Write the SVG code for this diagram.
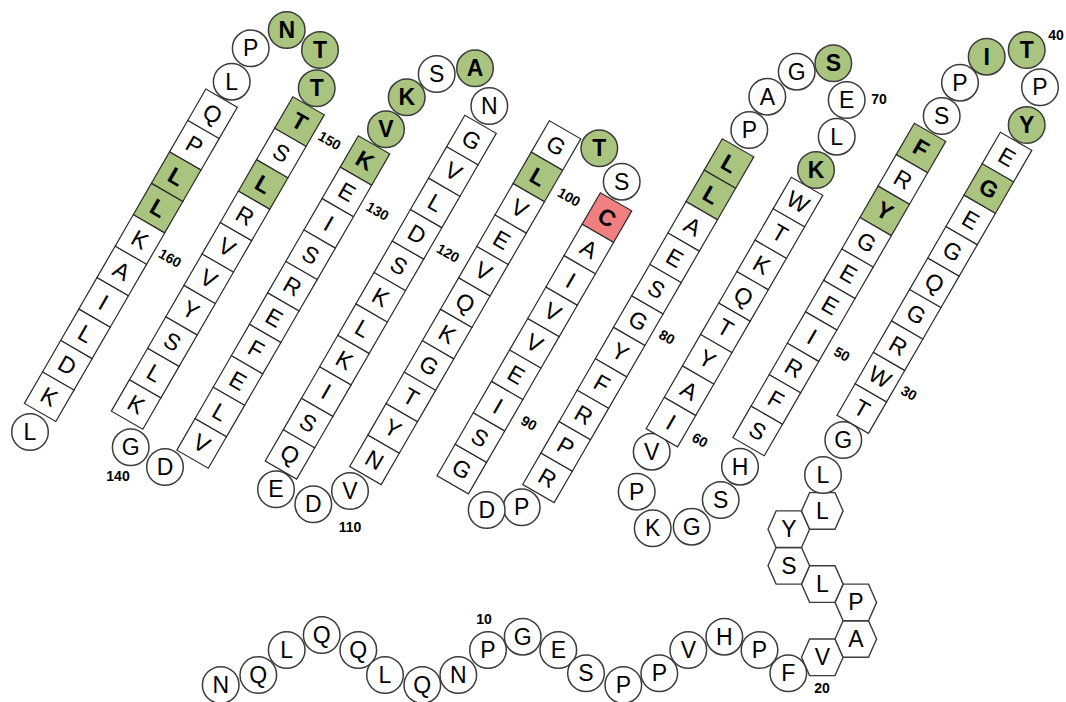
<svg xmlns="http://www.w3.org/2000/svg" width="1066" height="702" viewBox="0 0 1066 702">
<style>
.c{fill:#fff;stroke:#3c3c3c;stroke-width:1.5}
.s{fill:#fff;stroke:#2a2a2a;stroke-width:1.2}
.h{fill:#fff;stroke:#3c3c3c;stroke-width:1.4}
.g{fill:#a9c47f}
.r{fill:#f08080}
text{font-family:"Liberation Sans",Arial,sans-serif;font-size:23px;text-anchor:middle;dominant-baseline:central;fill:#000}
.b{font-weight:bold}
.n{font-size:14px;font-weight:bold}
</style>
<defs>
<rect id="sq" x="-18.15" y="-18.15" width="36.3" height="36.3"/>
<polygon id="hx" points="-20.8,0 -12.7,-18.3 12.7,-18.3 20.8,0 12.7,18.3 -12.7,18.3"/>
</defs>
<rect width="1066" height="702" fill="#fff"/>
<g id="connectors"></g>
<g id="residues">
<g id="n2"><circle class="c" cx="220.7" cy="685" r="18.3"/><text x="220.7" y="685">N</text></g>
<g id="n3"><circle class="c" cx="258.3" cy="675" r="18.3"/><text x="258.3" y="675">Q</text></g>
<g id="n4"><circle class="c" cx="286.7" cy="650" r="18.3"/><text x="286.7" y="650">L</text></g>
<g id="n5"><circle class="c" cx="321.7" cy="635" r="18.3"/><text x="321.7" y="635">Q</text></g>
<g id="n6"><circle class="c" cx="358.3" cy="650" r="18.3"/><text x="358.3" y="650">Q</text></g>
<g id="n7"><circle class="c" cx="385" cy="675" r="18.3"/><text x="385" y="675">L</text></g>
<g id="n8"><circle class="c" cx="422.3" cy="685" r="18.3"/><text x="422.3" y="685">Q</text></g>
<g id="n9"><circle class="c" cx="458.3" cy="675" r="18.3"/><text x="458.3" y="675">N</text></g>
<g id="n10"><circle class="c" cx="488" cy="650" r="18.3"/><text x="488" y="650">P</text></g>
<g id="n11"><circle class="c" cx="522.7" cy="636.7" r="18.3"/><text x="522.7" y="636.7">G</text></g>
<g id="n12"><circle class="c" cx="558.3" cy="650" r="18.3"/><text x="558.3" y="650">E</text></g>
<g id="n13"><circle class="c" cx="586" cy="673.3" r="18.3"/><text x="586" y="673.3">S</text></g>
<g id="n14"><circle class="c" cx="623.3" cy="685" r="18.3"/><text x="623.3" y="685">P</text></g>
<g id="n15"><circle class="c" cx="659.3" cy="673.3" r="18.3"/><text x="659.3" y="673.3">P</text></g>
<g id="n16"><circle class="c" cx="688.3" cy="650" r="18.3"/><text x="688.3" y="650">V</text></g>
<g id="n17"><circle class="c" cx="724.3" cy="636.7" r="18.3"/><text x="724.3" y="636.7">H</text></g>
<g id="n18"><circle class="c" cx="759.5" cy="650" r="18.3"/><text x="759.5" y="650">P</text></g>
<g id="n19"><circle class="c" cx="788.3" cy="673.3" r="18.3"/><text x="788.3" y="673.3">F</text></g>
<g id="n20" transform="translate(822.3,657.3)"><use href="#hx" class="h"/><text>V</text></g>
<g id="n21" transform="translate(855.8,639)"><use href="#hx" class="h"/><text>A</text></g>
<g id="n22" transform="translate(855.8,602.4)"><use href="#hx" class="h"/><text>P</text></g>
<g id="n23" transform="translate(822.3,584.1)"><use href="#hx" class="h"/><text>L</text></g>
<g id="n24" transform="translate(788.8,565.8)"><use href="#hx" class="h"/><text>S</text></g>
<g id="n25" transform="translate(788.8,529.2)"><use href="#hx" class="h"/><text>Y</text></g>
<g id="n26" transform="translate(822.3,510.9)"><use href="#hx" class="h"/><text>L</text></g>
<g id="n27"><circle class="c" cx="823" cy="475" r="18.3"/><text x="823" y="475">L</text></g>
<g id="n28"><circle class="c" cx="843.3" cy="440" r="18.3"/><text x="843.3" y="440">G</text></g>
<g id="n29" transform="translate(861.8,408.52) rotate(30)"><use href="#sq" class="s"/><text>T</text></g>
<g id="n30" transform="translate(879.95,377.08) rotate(30)"><use href="#sq" class="s"/><text>W</text></g>
<g id="n31" transform="translate(898.1,345.64) rotate(30)"><use href="#sq" class="s"/><text>R</text></g>
<g id="n32" transform="translate(916.25,314.2) rotate(30)"><use href="#sq" class="s"/><text>G</text></g>
<g id="n33" transform="translate(934.4,282.76) rotate(30)"><use href="#sq" class="s"/><text>Q</text></g>
<g id="n34" transform="translate(952.55,251.32) rotate(30)"><use href="#sq" class="s"/><text>G</text></g>
<g id="n35" transform="translate(970.7,219.88) rotate(30)"><use href="#sq" class="s"/><text>E</text></g>
<g id="n36" transform="translate(988.85,188.44) rotate(30)"><use href="#sq" class="s g"/><text class="b">G</text></g>
<g id="n37" transform="translate(1007,157) rotate(30)"><use href="#sq" class="s"/><text>E</text></g>
<g id="n38"><circle class="c g" cx="1026.7" cy="125" r="18.3"/><text class="b" x="1026.7" y="125">Y</text></g>
<g id="n39"><circle class="c" cx="1040" cy="87.3" r="18.3"/><text x="1040" y="87.3">P</text></g>
<g id="n40"><circle class="c g" cx="1026.7" cy="50" r="18.3"/><text class="b" x="1026.7" y="50">T</text></g>
<g id="n41"><circle class="c g" cx="986.7" cy="56.7" r="18.3"/><text class="b" x="986.7" y="56.7">I</text></g>
<g id="n42"><circle class="c" cx="960" cy="82.7" r="18.3"/><text x="960" y="82.7">P</text></g>
<g id="n43"><circle class="c" cx="941.7" cy="116" r="18.3"/><text x="941.7" y="116">S</text></g>
<g id="n44" transform="translate(921,148) rotate(30)"><use href="#sq" class="s g"/><text class="b">F</text></g>
<g id="n45" transform="translate(902.85,179.44) rotate(30)"><use href="#sq" class="s"/><text>R</text></g>
<g id="n46" transform="translate(884.7,210.88) rotate(30)"><use href="#sq" class="s g"/><text class="b">Y</text></g>
<g id="n47" transform="translate(866.55,242.32) rotate(30)"><use href="#sq" class="s"/><text>G</text></g>
<g id="n48" transform="translate(848.4,273.76) rotate(30)"><use href="#sq" class="s"/><text>E</text></g>
<g id="n49" transform="translate(830.25,305.2) rotate(30)"><use href="#sq" class="s"/><text>E</text></g>
<g id="n50" transform="translate(812.1,336.64) rotate(30)"><use href="#sq" class="s"/><text>I</text></g>
<g id="n51" transform="translate(793.95,368.08) rotate(30)"><use href="#sq" class="s"/><text>R</text></g>
<g id="n52" transform="translate(775.8,399.52) rotate(30)"><use href="#sq" class="s"/><text>F</text></g>
<g id="n53" transform="translate(757.65,430.96) rotate(30)"><use href="#sq" class="s"/><text>S</text></g>
<g id="n54"><circle class="c" cx="740" cy="466.7" r="18.3"/><text x="740" y="466.7">H</text></g>
<g id="n55"><circle class="c" cx="720.7" cy="500" r="18.3"/><text x="720.7" y="500">S</text></g>
<g id="n56"><circle class="c" cx="691.7" cy="526.7" r="18.3"/><text x="691.7" y="526.7">G</text></g>
<g id="n57"><circle class="c" cx="652.7" cy="528.3" r="18.3"/><text x="652.7" y="528.3">K</text></g>
<g id="n58"><circle class="c" cx="636.7" cy="491.7" r="18.3"/><text x="636.7" y="491.7">P</text></g>
<g id="n59"><circle class="c" cx="651.7" cy="451.7" r="18.3"/><text x="651.7" y="451.7">V</text></g>
<g id="n60" transform="translate(670.95,422.08) rotate(30)"><use href="#sq" class="s"/><text>I</text></g>
<g id="n61" transform="translate(689.1,390.64) rotate(30)"><use href="#sq" class="s"/><text>A</text></g>
<g id="n62" transform="translate(707.25,359.2) rotate(30)"><use href="#sq" class="s"/><text>Y</text></g>
<g id="n63" transform="translate(725.4,327.76) rotate(30)"><use href="#sq" class="s"/><text>T</text></g>
<g id="n64" transform="translate(743.55,296.32) rotate(30)"><use href="#sq" class="s"/><text>Q</text></g>
<g id="n65" transform="translate(761.7,264.88) rotate(30)"><use href="#sq" class="s"/><text>K</text></g>
<g id="n66" transform="translate(779.85,233.44) rotate(30)"><use href="#sq" class="s"/><text>T</text></g>
<g id="n67" transform="translate(798,202) rotate(30)"><use href="#sq" class="s"/><text>W</text></g>
<g id="n68"><circle class="c g" cx="816" cy="170" r="18.3"/><text class="b" x="816" y="170">K</text></g>
<g id="n69"><circle class="c" cx="836.7" cy="136.7" r="18.3"/><text x="836.7" y="136.7">L</text></g>
<g id="n70"><circle class="c" cx="846.7" cy="100" r="18.3"/><text x="846.7" y="100">E</text></g>
<g id="n71"><circle class="c g" cx="833.3" cy="63.3" r="18.3"/><text class="b" x="833.3" y="63.3">S</text></g>
<g id="n72"><circle class="c" cx="796.7" cy="71.7" r="18.3"/><text x="796.7" y="71.7">G</text></g>
<g id="n73"><circle class="c" cx="767.3" cy="96.7" r="18.3"/><text x="767.3" y="96.7">A</text></g>
<g id="n74"><circle class="c" cx="749.3" cy="130" r="18.3"/><text x="749.3" y="130">P</text></g>
<g id="n75" transform="translate(729,163.5) rotate(30)"><use href="#sq" class="s g"/><text class="b">L</text></g>
<g id="n76" transform="translate(710.85,194.94) rotate(30)"><use href="#sq" class="s g"/><text class="b">L</text></g>
<g id="n77" transform="translate(692.7,226.38) rotate(30)"><use href="#sq" class="s"/><text>A</text></g>
<g id="n78" transform="translate(674.55,257.82) rotate(30)"><use href="#sq" class="s"/><text>E</text></g>
<g id="n79" transform="translate(656.4,289.26) rotate(30)"><use href="#sq" class="s"/><text>S</text></g>
<g id="n80" transform="translate(638.25,320.7) rotate(30)"><use href="#sq" class="s"/><text>G</text></g>
<g id="n81" transform="translate(620.1,352.14) rotate(30)"><use href="#sq" class="s"/><text>Y</text></g>
<g id="n82" transform="translate(601.95,383.58) rotate(30)"><use href="#sq" class="s"/><text>F</text></g>
<g id="n83" transform="translate(583.8,415.02) rotate(30)"><use href="#sq" class="s"/><text>R</text></g>
<g id="n84" transform="translate(565.65,446.46) rotate(30)"><use href="#sq" class="s"/><text>P</text></g>
<g id="n85" transform="translate(547.5,477.9) rotate(30)"><use href="#sq" class="s"/><text>R</text></g>
<g id="n86"><circle class="c" cx="521.7" cy="507.3" r="18.3"/><text x="521.7" y="507.3">P</text></g>
<g id="n87"><circle class="c" cx="486.7" cy="510" r="18.3"/><text x="486.7" y="510">D</text></g>
<g id="n88" transform="translate(461.8,469.02) rotate(30)"><use href="#sq" class="s"/><text>G</text></g>
<g id="n89" transform="translate(479.95,437.58) rotate(30)"><use href="#sq" class="s"/><text>S</text></g>
<g id="n90" transform="translate(498.1,406.14) rotate(30)"><use href="#sq" class="s"/><text>I</text></g>
<g id="n91" transform="translate(516.25,374.7) rotate(30)"><use href="#sq" class="s"/><text>E</text></g>
<g id="n92" transform="translate(534.4,343.26) rotate(30)"><use href="#sq" class="s"/><text>V</text></g>
<g id="n93" transform="translate(552.55,311.82) rotate(30)"><use href="#sq" class="s"/><text>V</text></g>
<g id="n94" transform="translate(570.7,280.38) rotate(30)"><use href="#sq" class="s"/><text>I</text></g>
<g id="n95" transform="translate(588.85,248.94) rotate(30)"><use href="#sq" class="s"/><text>A</text></g>
<g id="n96" transform="translate(607,217.5) rotate(30)"><use href="#sq" class="s r"/><text class="b">C</text></g>
<g id="n97"><circle class="c" cx="621.7" cy="181.7" r="18.3"/><text x="621.7" y="181.7">S</text></g>
<g id="n98"><circle class="c g" cx="599.3" cy="148.3" r="18.3"/><text class="b" x="599.3" y="148.3">T</text></g>
<g id="n99" transform="translate(556,145.5) rotate(30)"><use href="#sq" class="s"/><text>G</text></g>
<g id="n100" transform="translate(537.85,176.94) rotate(30)"><use href="#sq" class="s g"/><text class="b">L</text></g>
<g id="n101" transform="translate(519.7,208.38) rotate(30)"><use href="#sq" class="s"/><text>V</text></g>
<g id="n102" transform="translate(501.55,239.82) rotate(30)"><use href="#sq" class="s"/><text>E</text></g>
<g id="n103" transform="translate(483.4,271.26) rotate(30)"><use href="#sq" class="s"/><text>V</text></g>
<g id="n104" transform="translate(465.25,302.7) rotate(30)"><use href="#sq" class="s"/><text>Q</text></g>
<g id="n105" transform="translate(447.1,334.14) rotate(30)"><use href="#sq" class="s"/><text>K</text></g>
<g id="n106" transform="translate(428.95,365.58) rotate(30)"><use href="#sq" class="s"/><text>G</text></g>
<g id="n107" transform="translate(410.8,397.02) rotate(30)"><use href="#sq" class="s"/><text>T</text></g>
<g id="n108" transform="translate(392.65,428.46) rotate(30)"><use href="#sq" class="s"/><text>Y</text></g>
<g id="n109" transform="translate(374.5,459.9) rotate(30)"><use href="#sq" class="s"/><text>N</text></g>
<g id="n110"><circle class="c" cx="350" cy="491" r="18.3"/><text x="350" y="491">V</text></g>
<g id="n111"><circle class="c" cx="313.3" cy="504.3" r="18.3"/><text x="313.3" y="504.3">D</text></g>
<g id="n112"><circle class="c" cx="276" cy="489.3" r="18.3"/><text x="276" y="489.3">E</text></g>
<g id="n113" transform="translate(290,454.4) rotate(30)"><use href="#sq" class="s"/><text>Q</text></g>
<g id="n114" transform="translate(308.15,422.96) rotate(30)"><use href="#sq" class="s"/><text>S</text></g>
<g id="n115" transform="translate(326.3,391.52) rotate(30)"><use href="#sq" class="s"/><text>I</text></g>
<g id="n116" transform="translate(344.45,360.08) rotate(30)"><use href="#sq" class="s"/><text>K</text></g>
<g id="n117" transform="translate(362.6,328.64) rotate(30)"><use href="#sq" class="s"/><text>L</text></g>
<g id="n118" transform="translate(380.75,297.2) rotate(30)"><use href="#sq" class="s"/><text>K</text></g>
<g id="n119" transform="translate(398.9,265.76) rotate(30)"><use href="#sq" class="s"/><text>S</text></g>
<g id="n120" transform="translate(417.05,234.32) rotate(30)"><use href="#sq" class="s"/><text>D</text></g>
<g id="n121" transform="translate(435.2,202.88) rotate(30)"><use href="#sq" class="s"/><text>L</text></g>
<g id="n122" transform="translate(453.35,171.44) rotate(30)"><use href="#sq" class="s"/><text>V</text></g>
<g id="n123" transform="translate(471.5,140) rotate(30)"><use href="#sq" class="s"/><text>G</text></g>
<g id="n124"><circle class="c" cx="489.3" cy="106" r="18.3"/><text x="489.3" y="106">N</text></g>
<g id="n125"><circle class="c g" cx="475" cy="68.3" r="18.3"/><text class="b" x="475" y="68.3">A</text></g>
<g id="n126"><circle class="c" cx="436.7" cy="74" r="18.3"/><text x="436.7" y="74">S</text></g>
<g id="n127"><circle class="c g" cx="406.7" cy="97.3" r="18.3"/><text class="b" x="406.7" y="97.3">K</text></g>
<g id="n128"><circle class="c g" cx="386" cy="129.3" r="18.3"/><text class="b" x="386" y="129.3">V</text></g>
<g id="n129" transform="translate(365,160.5) rotate(30)"><use href="#sq" class="s g"/><text class="b">K</text></g>
<g id="n130" transform="translate(346.85,191.94) rotate(30)"><use href="#sq" class="s"/><text>E</text></g>
<g id="n131" transform="translate(328.7,223.38) rotate(30)"><use href="#sq" class="s"/><text>I</text></g>
<g id="n132" transform="translate(310.55,254.82) rotate(30)"><use href="#sq" class="s"/><text>S</text></g>
<g id="n133" transform="translate(292.4,286.26) rotate(30)"><use href="#sq" class="s"/><text>R</text></g>
<g id="n134" transform="translate(274.25,317.7) rotate(30)"><use href="#sq" class="s"/><text>E</text></g>
<g id="n135" transform="translate(256.1,349.14) rotate(30)"><use href="#sq" class="s"/><text>F</text></g>
<g id="n136" transform="translate(237.95,380.58) rotate(30)"><use href="#sq" class="s"/><text>E</text></g>
<g id="n137" transform="translate(219.8,412.02) rotate(30)"><use href="#sq" class="s"/><text>L</text></g>
<g id="n138" transform="translate(201.65,443.46) rotate(30)"><use href="#sq" class="s"/><text>V</text></g>
<g id="n139"><circle class="c" cx="165" cy="467" r="18.3"/><text x="165" y="467">D</text></g>
<g id="n140"><circle class="c" cx="130.7" cy="447.3" r="18.3"/><text x="130.7" y="447.3">G</text></g>
<g id="n141" transform="translate(136.15,404.46) rotate(30)"><use href="#sq" class="s"/><text>K</text></g>
<g id="n142" transform="translate(154.3,373.02) rotate(30)"><use href="#sq" class="s"/><text>L</text></g>
<g id="n143" transform="translate(172.45,341.58) rotate(30)"><use href="#sq" class="s"/><text>S</text></g>
<g id="n144" transform="translate(190.6,310.14) rotate(30)"><use href="#sq" class="s"/><text>Y</text></g>
<g id="n145" transform="translate(208.75,278.7) rotate(30)"><use href="#sq" class="s"/><text>V</text></g>
<g id="n146" transform="translate(226.9,247.26) rotate(30)"><use href="#sq" class="s"/><text>V</text></g>
<g id="n147" transform="translate(245.05,215.82) rotate(30)"><use href="#sq" class="s"/><text>R</text></g>
<g id="n148" transform="translate(263.2,184.38) rotate(30)"><use href="#sq" class="s g"/><text class="b">L</text></g>
<g id="n149" transform="translate(281.35,152.94) rotate(30)"><use href="#sq" class="s"/><text>S</text></g>
<g id="n150" transform="translate(299.5,121.5) rotate(30)"><use href="#sq" class="s g"/><text class="b">T</text></g>
<g id="n151"><circle class="c g" cx="316.7" cy="88.3" r="18.3"/><text class="b" x="316.7" y="88.3">T</text></g>
<g id="n152"><circle class="c g" cx="320" cy="50" r="18.3"/><text class="b" x="320" y="50">T</text></g>
<g id="n153"><circle class="c g" cx="286.7" cy="30" r="18.3"/><text class="b" x="286.7" y="30">N</text></g>
<g id="n154"><circle class="c" cx="250.7" cy="48.3" r="18.3"/><text x="250.7" y="48.3">P</text></g>
<g id="n155"><circle class="c" cx="231.7" cy="81.7" r="18.3"/><text x="231.7" y="81.7">L</text></g>
<g id="n156" transform="translate(212.5,113.8) rotate(30)"><use href="#sq" class="s"/><text>Q</text></g>
<g id="n157" transform="translate(194.35,145.24) rotate(30)"><use href="#sq" class="s"/><text>P</text></g>
<g id="n158" transform="translate(176.2,176.68) rotate(30)"><use href="#sq" class="s g"/><text class="b">L</text></g>
<g id="n159" transform="translate(158.05,208.12) rotate(30)"><use href="#sq" class="s g"/><text class="b">L</text></g>
<g id="n160" transform="translate(139.9,239.56) rotate(30)"><use href="#sq" class="s"/><text>K</text></g>
<g id="n161" transform="translate(121.75,271) rotate(30)"><use href="#sq" class="s"/><text>A</text></g>
<g id="n162" transform="translate(103.6,302.44) rotate(30)"><use href="#sq" class="s"/><text>I</text></g>
<g id="n163" transform="translate(85.45,333.88) rotate(30)"><use href="#sq" class="s"/><text>L</text></g>
<g id="n164" transform="translate(67.3,365.32) rotate(30)"><use href="#sq" class="s"/><text>D</text></g>
<g id="n165" transform="translate(49.15,396.76) rotate(30)"><use href="#sq" class="s"/><text>K</text></g>
<g id="n166"><circle class="c" cx="30" cy="432" r="18.3"/><text x="30" y="432">L</text></g>
</g>
<g id="labels">
<text class="n" x="484" y="619">10</text>
<text class="n" x="822" y="688">20</text>
<text class="n" transform="translate(909,393) rotate(30)">30</text>
<text class="n" x="1056" y="35">40</text>
<text class="n" transform="translate(842,354) rotate(30)">50</text>
<text class="n" transform="translate(700,440) rotate(30)">60</text>
<text class="n" x="879" y="99">70</text>
<text class="n" transform="translate(667,337) rotate(30)">80</text>
<text class="n" transform="translate(529,423) rotate(30)">90</text>
<text class="n" transform="translate(569,197) rotate(30)">100</text>
<text class="n" x="350" y="527">110</text>
<text class="n" transform="translate(448,253) rotate(30)">120</text>
<text class="n" transform="translate(377.5,211) rotate(30)">130</text>
<text class="n" x="118" y="476">140</text>
<text class="n" transform="translate(329.5,140.5) rotate(30)">150</text>
<text class="n" transform="translate(170,258) rotate(30)">160</text>
</g>
</svg>
